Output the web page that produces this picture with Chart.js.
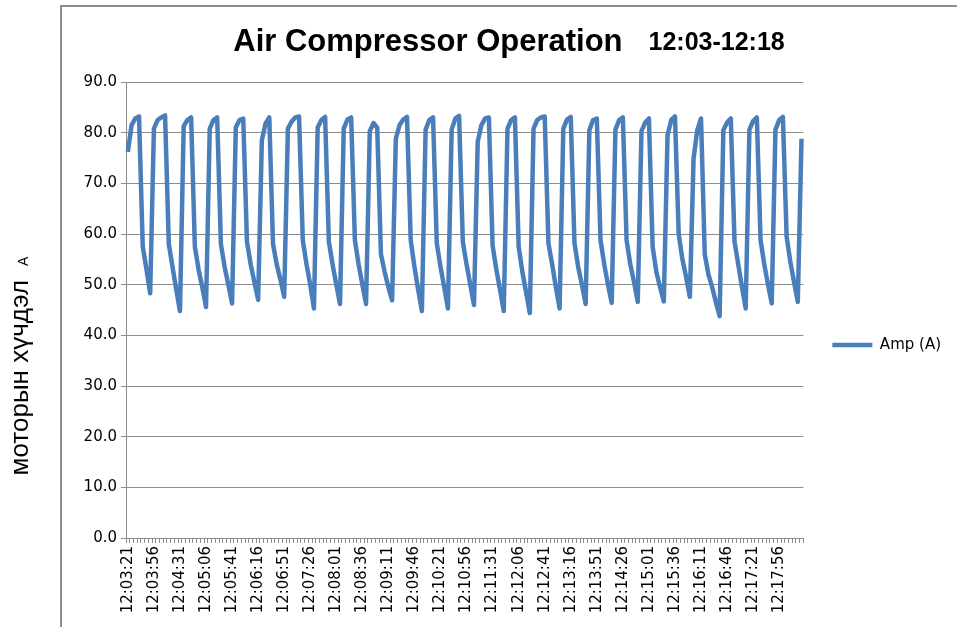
<!DOCTYPE html>
<html>
<head>
<meta charset="utf-8">
<script src="https://cdn.jsdelivr.net/npm/chart.js@4.4.1/dist/chart.umd.min.js"></script>
<style>
  html, body { margin: 0; padding: 0; background: #fff; overflow: hidden; }
  #wrap { position: relative; width: 957px; height: 627px; }
  #frame { position: absolute; left: 60px; top: 5px; width: 1000px; height: 1000px;
           border-left: 2px solid #8c8c8c; border-top: 2px solid #8c8c8c; pointer-events: none; }
  canvas { position: absolute; left: 0; top: 0; }
</style>
</head>
<body>
<div id="wrap">
  <div id="frame"></div>
  <canvas id="ampChart" width="957" height="627"></canvas>
</div>
<script>
// logger samples every 5 s, first sample at 12:03:21
const startTime = '12:03:21';
const stepSeconds = 5;
const labelEvery = 7;

const ampSeries = [
  76.2, 81.5, 82.8, 83.2, 57.5, 53.0, 48.3,
  80.8, 82.5, 83.0, 83.4, 58.0, 53.5, 49.0, 44.8,
  81.3, 82.5, 83.0, 57.5, 53.0, 49.5, 45.6,
  80.8, 82.5, 83.0, 58.0, 53.5, 50.0, 46.3,
  81.0, 82.5, 82.8, 58.5, 54.0, 50.5, 47.0,
  78.5, 81.8, 83.0, 58.0, 54.0, 51.0, 47.6,
  80.8, 82.2, 83.0, 83.2, 58.8, 54.0, 50.0, 45.3,
  81.0, 82.5, 83.1, 58.5, 54.0, 50.0, 46.2,
  80.8, 82.6, 83.0, 58.8, 54.0, 50.0, 46.2,
  80.3, 81.9, 81.0, 56.0, 52.5, 49.5, 46.9,
  78.8, 81.5, 82.6, 83.1, 58.8, 53.5, 49.0, 44.8,
  80.6, 82.5, 83.0, 58.2, 53.5, 49.5, 45.3,
  80.6, 82.8, 83.3, 58.5, 54.0, 50.0, 46.0,
  78.2, 81.5, 82.8, 83.0, 57.7, 53.0, 49.0, 44.8,
  80.8, 82.5, 83.0, 57.5, 52.5, 48.5, 44.4,
  80.8, 82.5, 83.0, 83.2, 58.2, 54.0, 49.5, 45.3,
  80.8, 82.6, 83.1, 58.2, 53.5, 50.0, 46.2,
  80.5, 82.5, 82.8, 58.8, 54.0, 50.0, 46.4,
  80.6, 82.5, 83.0, 58.8, 54.0, 50.5, 46.6,
  80.3, 82.0, 82.8, 57.5, 52.5, 49.5, 46.7,
  79.5, 82.5, 83.2, 60.0, 55.0, 51.5, 47.6,
  74.9, 80.5, 82.8, 56.0, 52.0, 49.5, 46.5, 43.8,
  80.5, 82.0, 82.8, 58.5, 54.0, 49.5, 45.3,
  80.6, 82.3, 83.0, 58.8, 54.0, 50.0, 46.3,
  80.6, 82.5, 83.1, 59.5, 54.5, 50.5, 46.6,
  78.8
];

const yMin = 0;
const yMax = 90;
const yStep = 10;

const seriesName = 'Amp (A)';
const titleMain = 'Air Compressor Operation';
const titleRange = '12:03-12:18';
const yTitleMain = 'моторын хүчдэл';
const yTitleUnit = 'A';

function buildTimes(start, step, count) {
  const [h, m, s] = start.split(':').map(Number);
  let t = h * 3600 + m * 60 + s;
  const out = [];
  const pad = n => String(n).padStart(2, '0');
  for (let i = 0; i < count; i++) {
    out.push(Math.floor(t / 3600) + ':' + pad(Math.floor(t / 60) % 60) + ':' + pad(t % 60));
    t += step;
  }
  return out;
}
const timeLabels = buildTimes(startTime, stepSeconds, ampSeries.length);

const tickFont = { family: 'DejaVu Sans', size: 15 };
const gridGrey = '#8c8c8c';
const lineBlue = '#4a7ebb';

// big title with the time window next to it
const headerText = {
  id: 'headerText',
  afterDraw(chart) {
    const ctx = chart.ctx;
    ctx.save();
    ctx.fillStyle = '#000';
    ctx.textBaseline = 'alphabetic';
    ctx.textAlign = 'left';
    const mainFont = 'bold 31px "Liberation Sans"';
    const rangeFont = 'bold 25px "Liberation Sans"';
    ctx.font = mainFont;
    const w1 = ctx.measureText(titleMain).width;
    ctx.font = rangeFont;
    const w2 = ctx.measureText(titleRange).width;
    const gap = 26;
    const x0 = 509 - (w1 + gap + w2) / 2;
    ctx.font = mainFont;
    ctx.fillText(titleMain, x0, 51);
    ctx.font = rangeFont;
    ctx.fillText(titleRange, x0 + w1 + gap, 50);
    ctx.restore();
  }
};

// rotated y-axis caption, sitting outside the frame
const sideText = {
  id: 'sideText',
  afterDraw(chart) {
    const ctx = chart.ctx;
    ctx.save();
    ctx.fillStyle = '#000';
    ctx.textBaseline = 'alphabetic';
    ctx.textAlign = 'left';
    ctx.font = '26px "Liberation Sans"';
    const w1 = ctx.measureText(yTitleMain).width;
    ctx.font = '14px "Liberation Sans"';
    const w2 = ctx.measureText(yTitleUnit).width;
    const gap = 14;
    const total = w1 + gap + w2;
    ctx.translate(28, 366 + total / 2);
    ctx.rotate(-Math.PI / 2);
    ctx.font = '26px "Liberation Sans"';
    ctx.fillText(yTitleMain, 0, 0);
    ctx.font = '14px "Liberation Sans"';
    ctx.fillText(yTitleUnit, w1 + gap, 0);
    ctx.restore();
  }
};

new Chart(document.getElementById('ampChart'), {
  type: 'line',
  data: {
    labels: timeLabels,
    datasets: [{
      label: seriesName,
      data: ampSeries,
      borderColor: lineBlue,
      backgroundColor: lineBlue,
      borderWidth: 4.5,
      borderJoinStyle: 'round',
      pointRadius: 0,
      pointHoverRadius: 0,
      tension: 0
    }]
  },
  options: {
    responsive: false,
    animation: false,
    layout: { padding: { top: 82, left: 68, right: 6, bottom: 0 } },
    plugins: {
      title: { display: false },
      tooltip: { enabled: false },
      legend: {
        position: 'right',
        fullSize: false,
        // empty title only pushes the entry down a little
        title: { display: true, text: '', padding: 30, font: { size: 10, lineHeight: 1 } },
        labels: {
          usePointStyle: true,
          pointStyle: 'line',
          pointStyleWidth: 40,
          padding: 29,
          color: '#000',
          font: tickFont
        }
      }
    },
    scales: {
      x: {
        offset: true,
        afterFit(scale) { scale.height = 89; },
        grid: { offset: true, drawOnChartArea: false, tickLength: 5, color: gridGrey },
        border: { color: gridGrey, width: 1 },
        ticks: {
          autoSkip: false,
          minRotation: 90,
          maxRotation: 90,
          padding: 3,
          color: '#000',
          font: tickFont,
          callback(value, index) {
            return index % labelEvery === 0 ? this.getLabelForValue(value) : '';
          }
        }
      },
      y: {
        min: yMin,
        max: yMax,
        afterFit(scale) { scale.width = 58; },
        grid: { color: gridGrey, tickLength: 5 },
        border: { color: gridGrey, width: 1 },
        ticks: {
          stepSize: yStep,
          padding: 4,
          color: '#000',
          font: tickFont,
          callback: v => v.toFixed(1)
        }
      }
    }
  },
  plugins: [headerText, sideText]
});
</script>
</body>
</html>
